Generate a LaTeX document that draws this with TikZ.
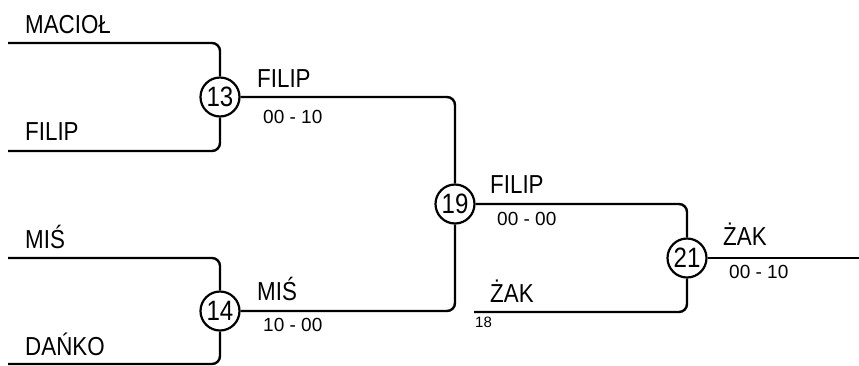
\documentclass[tikz,border=0pt]{standalone}
\usepackage{fontspec}
\setmainfont{Liberation Sans}
\newfontfamily\narrowfont{Liberation Sans}[FakeStretch=0.86]
\begin{document}
\begin{tikzpicture}[x=1pt,y=-1pt,
  conn/.style={line width=2.4pt,rounded corners=8pt},
  mcircle/.style={circle,draw,line width=2.2pt,minimum size=39pt,inner sep=0pt,font=\narrowfont\fontsize{28}{28}\selectfont},
  tname/.style={anchor=base west,inner sep=0pt,font=\narrowfont\fontsize{26}{26}\selectfont},
  tscore/.style={anchor=base west,inner sep=0pt,font=\fontsize{19}{19}\selectfont},
  tsmall/.style={anchor=base west,inner sep=0pt,font=\fontsize{15}{15}\selectfont}]
\useasboundingbox (0,0) rectangle (859,365);
% match circles
\node[mcircle] (m13) at (220,97) {13};
\node[mcircle] (m14) at (220,311) {14};
\node[mcircle] (m19) at (455,204) {19};
\node[mcircle] (m21) at (687,258) {21};
% free ends
\coordinate (a1) at (8,43);
\coordinate (a2) at (8,151);
\coordinate (b1) at (8,258);
\coordinate (b2) at (8,364);
\coordinate (c2) at (474,312);
\coordinate (fin) at (859,258);
% connectors
\draw[conn] (a1) -| (m13.north);
\draw[conn] (a2) -| (m13.south);
\draw[conn] (b1) -| (m14.north);
\draw[conn] (b2) -| (m14.south);
\draw[conn] (m13.east) -| (m19.north);
\draw[conn] (m14.east) -| (m19.south);
\draw[conn] (m19.east) -| (m21.north);
\draw[conn] (c2) -| (m21.south);
\draw[conn] (m21.east) -- (fin);
% labels
\node[tname] (t1) at (25,33) {MACIOŁ};
\node[tname] (t2) at (25,140) {FILIP};
\node[tname] (t3) at (25,248) {MIŚ};
\node[tname] (t4) at (25,355) {DAŃKO};
\node[tname] (w13) at (257,87) {FILIP};
\node[tscore] (s13) at (263,123) {00 - 10};
\node[tname] (w14) at (257,300) {MIŚ};
\node[tscore] (s14) at (263,331) {10 - 00};
\node[tname] (w19) at (490,193) {FILIP};
\node[tscore] (s19) at (497,225) {00 - 00};
\node[tname] (w18) at (490,302) {ŻAK};
\node[tsmall] (n18) at (475,327) {18};
\node[tname] (w21) at (723,245) {ŻAK};
\node[tscore] (s21) at (729,278) {00 - 10};
\end{tikzpicture}
\end{document}
